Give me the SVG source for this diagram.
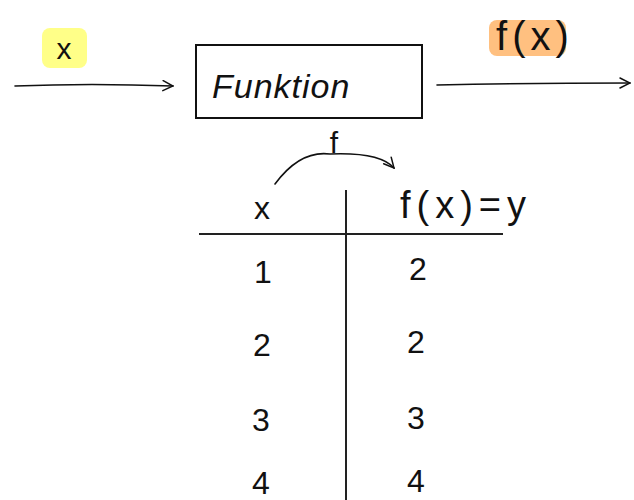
<svg xmlns="http://www.w3.org/2000/svg" width="634" height="500" viewBox="0 0 634 500">
<style>
.t{font-family:"Liberation Sans","DejaVu Sans",sans-serif;fill:#111;}
.ln{stroke:#111;stroke-width:1.6;fill:none;stroke-linecap:round;stroke-linejoin:round;}
.ax{stroke:#222;stroke-width:2;fill:none;}
</style>
<defs>
<marker id="ah" viewBox="0 0 12 12" refX="11" refY="6" markerWidth="12" markerHeight="12" markerUnits="userSpaceOnUse" orient="auto">
<path d="M1 1 L11 6 L1 11" fill="none" stroke="#111" stroke-width="1.5" stroke-linecap="round"/>
</marker>
</defs>
<rect width="634" height="500" fill="#fff"/>
<g id="input">
<rect x="42" y="28" width="45" height="40" rx="8" fill="#ffff88"/>
<text class="t" x="64" y="59" font-size="30" text-anchor="middle">x</text>
</g>
<g id="funktion">
<rect x="196" y="45" width="226" height="73" fill="none" stroke="#111" stroke-width="2"/>
<text class="t" x="212" y="98" font-size="34" font-style="italic" letter-spacing="1">Funktion</text>
</g>
<g id="output">
<rect x="489" y="20" width="77" height="36" rx="8" fill="#ffc080"/>
<text class="t" x="535" y="50" font-size="40" text-anchor="middle" letter-spacing="5">f(x)</text>
</g>
<g id="connectors">
<path class="ln" d="M15 86 Q90 83 173 86" marker-end="url(#ah)"/>
<path class="ln" d="M437 85 Q530 83 630 83" marker-end="url(#ah)"/>
<path class="ln" d="M275 184 Q300 150 330 154 Q380 152 394 168" marker-end="url(#ah)"/>
</g>
<g id="table">
<line class="ax" x1="346" y1="190" x2="346" y2="500"/>
<line class="ax" x1="199" y1="234" x2="503" y2="234"/>
<text class="t" x="334" y="153" font-size="30" text-anchor="middle">f</text>
<text class="t" x="262" y="219" font-size="32" text-anchor="middle">x</text>
<text class="t" x="466" y="218" font-size="38" text-anchor="middle" letter-spacing="6">f(x)=y</text>
<g font-size="32" text-anchor="middle">
<text class="t" x="263" y="283">1</text>
<text class="t" x="262" y="356">2</text>
<text class="t" x="261" y="431">3</text>
<text class="t" x="261" y="494">4</text>
<text class="t" x="418" y="280">2</text>
<text class="t" x="416" y="353">2</text>
<text class="t" x="416" y="429">3</text>
<text class="t" x="416" y="492">4</text>
</g>
</g>
</svg>
